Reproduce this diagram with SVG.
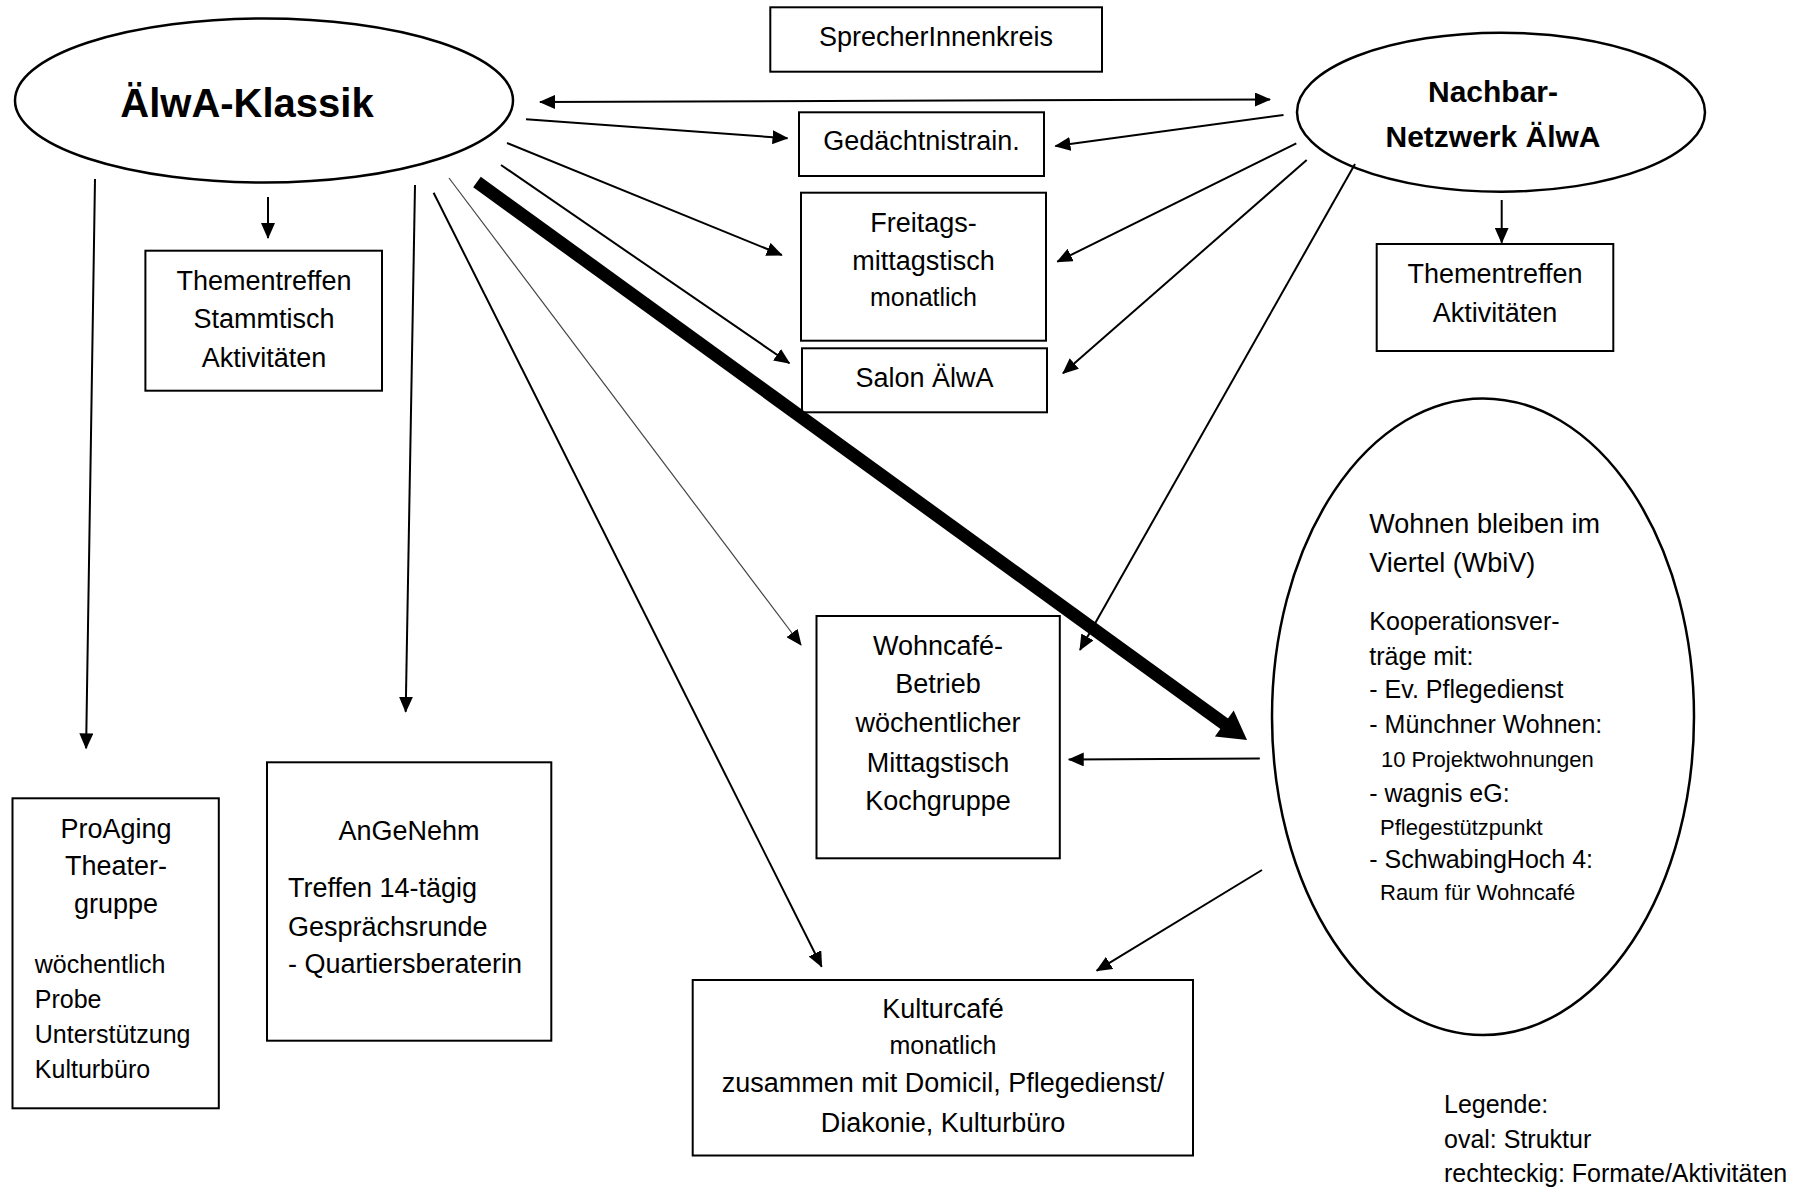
<svg xmlns="http://www.w3.org/2000/svg" width="1809" height="1191" viewBox="0 0 1809 1191">
<style>
.box{fill:#fff;stroke:#000;stroke-width:2}
.oval{fill:#fff;stroke:#000;stroke-width:2.5}
text{font-family:"Liberation Sans",Arial,sans-serif;font-size:27px;fill:#000}
.m{font-size:25px}
.s{font-size:22px}
.c{text-anchor:middle}
.b{font-weight:bold}
.conn line{stroke:#000;stroke-width:2;marker-end:url(#ah)}
.conn line.thin{stroke:#444;stroke-width:1.2}
</style>
<defs>
<marker id="ah" markerUnits="userSpaceOnUse" markerWidth="16" markerHeight="14" refX="15" refY="7" orient="auto-start-reverse">
<path d="M0,0 L16,7 L0,14 z" fill="#000"/>
</marker>
</defs>
<rect width="1809" height="1191" fill="#fff"/>

<g id="klassik">
<ellipse class="oval" cx="264" cy="100.5" rx="249" ry="82"/>
<text class="c b" x="247" y="116.7" style="font-size:40px">ÄlwA-Klassik</text>
</g>
<g id="nachbar">
<ellipse class="oval" cx="1501" cy="112.2" rx="204" ry="79.5"/>
<text class="c b" x="1493" y="101.7" style="font-size:30px">Nachbar-</text>
<text class="c b" x="1493" y="146.7" style="font-size:30px">Netzwerk ÄlwA</text>
</g>
<g id="sprecher">
<rect class="box" x="770.3" y="7.3" width="331.7" height="64.4"/>
<text class="c" x="936" y="46">SprecherInnenkreis</text>
</g>
<g id="gedaechtnis">
<rect class="box" x="799" y="112.3" width="245" height="63.7"/>
<text class="c" x="921.5" y="150">Gedächtnistrain.</text>
</g>
<g id="freitags">
<rect class="box" x="801" y="192.7" width="245" height="148"/>
<text class="c" x="923.5" y="231.7">Freitags-</text>
<text class="c" x="923.5" y="270">mittagstisch</text>
<text class="c m" x="923.5" y="306">monatlich</text>
</g>
<g id="salon">
<rect class="box" x="802" y="348.3" width="245" height="64"/>
<text class="c" x="924.5" y="386.7">Salon ÄlwA</text>
</g>
<g id="thementreffen-klassik">
<rect class="box" x="145.4" y="250.7" width="236.6" height="140"/>
<text class="c" x="264" y="290">Thementreffen</text>
<text class="c" x="264" y="328.3">Stammtisch</text>
<text class="c" x="264" y="366.7">Aktivitäten</text>
</g>
<g id="thementreffen-nachbar">
<rect class="box" x="1376.7" y="244" width="236.6" height="107"/>
<text class="c" x="1495" y="283.3">Thementreffen</text>
<text class="c" x="1495" y="321.7">Aktivitäten</text>
</g>
<g id="wohncafe">
<rect class="box" x="816.5" y="616" width="243.3" height="242.3"/>
<text class="c" x="938" y="655">Wohncafé-</text>
<text class="c" x="938" y="693.3">Betrieb</text>
<text class="c" x="938" y="731.7">wöchentlicher</text>
<text class="c" x="938" y="771.7">Mittagstisch</text>
<text class="c" x="938" y="810">Kochgruppe</text>
</g>
<g id="wbiv">
<ellipse class="oval" cx="1483" cy="716.7" rx="211" ry="318.3"/>
<text x="1369.3" y="533.3">Wohnen bleiben im</text>
<text x="1369.3" y="571.7">Viertel (WbiV)</text>
<text class="m" x="1369.3" y="630">Kooperationsver-</text>
<text class="m" x="1369.3" y="665">träge mit:</text>
<text class="m" x="1369.3" y="698.3">- Ev. Pflegedienst</text>
<text class="m" x="1369.3" y="733.3">- Münchner Wohnen:</text>
<text class="s" x="1381" y="766.7">10 Projektwohnungen</text>
<text class="m" x="1369.3" y="801.7">- wagnis eG:</text>
<text class="s" x="1380" y="835">Pflegestützpunkt</text>
<text class="m" x="1369.3" y="868.3">- SchwabingHoch 4:</text>
<text class="s" x="1380" y="900">Raum für Wohncafé</text>
</g>
<g id="proaging">
<rect class="box" x="12.5" y="798.3" width="206.3" height="310"/>
<text class="c" x="116" y="838.3">ProAging</text>
<text class="c" x="116" y="875">Theater-</text>
<text class="c" x="116" y="912.5">gruppe</text>
<text class="m" x="34.8" y="972.7">wöchentlich</text>
<text class="m" x="34.8" y="1008.3">Probe</text>
<text class="m" x="34.8" y="1043.3">Unterstützung</text>
<text class="m" x="34.8" y="1077.7">Kulturbüro</text>
</g>
<g id="angenehm">
<rect class="box" x="267" y="762.3" width="284.3" height="278.4"/>
<text class="c" x="409" y="840">AnGeNehm</text>
<text x="288" y="897.3">Treffen 14-tägig</text>
<text x="288" y="936">Gesprächsrunde</text>
<text x="288" y="972.7">- Quartiersberaterin</text>
</g>
<g id="kulturcafe">
<rect class="box" x="692.7" y="980" width="500.3" height="175.5"/>
<text class="c" x="943" y="1018.3">Kulturcafé</text>
<text class="c m" x="943" y="1054.3">monatlich</text>
<text class="c" x="943" y="1091.7">zusammen mit Domicil, Pflegedienst/</text>
<text class="c" x="943" y="1131.7">Diakonie, Kulturbüro</text>
</g>
<g id="legende">
<text class="m" x="1444" y="1113.3">Legende:</text>
<text class="m" x="1444" y="1148.3">oval: Struktur</text>
<text class="m" x="1444" y="1181.7">rechteckig: Formate/Aktivitäten</text>
</g>

<g id="connectors" class="conn">
<line x1="540" y1="102" x2="1270" y2="99.5" marker-start="url(#ah)"/>
<line x1="526" y1="119.3" x2="787.5" y2="138.3"/>
<line x1="1283.5" y1="115" x2="1055.4" y2="146"/>
<line x1="507" y1="143" x2="781.8" y2="255"/>
<line x1="1296.3" y1="143.3" x2="1057.3" y2="261.7"/>
<line x1="501" y1="165" x2="789.4" y2="363.3"/>
<line x1="1306.7" y1="160" x2="1063" y2="373.3"/>
<line class="thin" x1="449" y1="178" x2="801" y2="645"/>
<line x1="1355" y1="164" x2="1080" y2="650"/>
<line x1="1259.8" y1="758.5" x2="1068.75" y2="759.5"/>
<line x1="433.6" y1="192.7" x2="821.7" y2="966.7"/>
<line x1="1262" y1="870" x2="1096.7" y2="970.7"/>
<line x1="95" y1="179" x2="86.1" y2="748.3"/>
<line x1="415" y1="185" x2="405.7" y2="711.7"/>
<line x1="268" y1="197" x2="268" y2="238"/>
<line x1="1501.7" y1="200" x2="1501.7" y2="242.7"/>
<path d="M477,182 L1226,725" stroke="#000" stroke-width="13" fill="none"/>
<polygon points="1247,740 1214.9,736.6 1233.7,710.6" fill="#000"/>
</g>
</svg>
